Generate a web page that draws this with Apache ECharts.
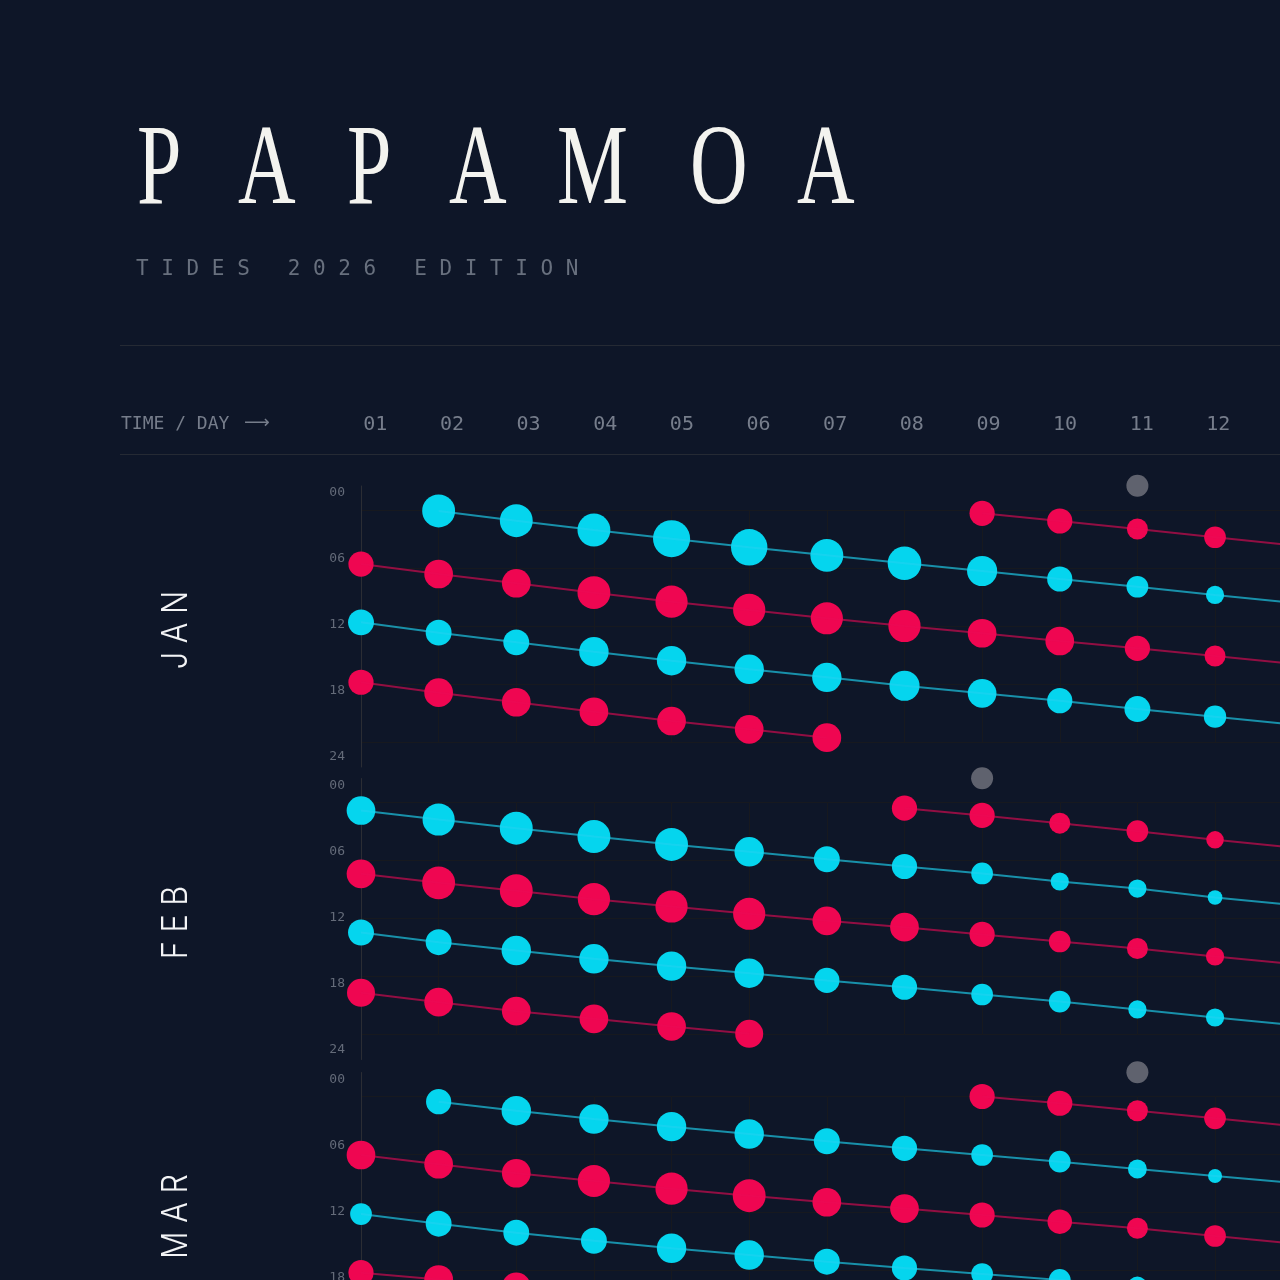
<!DOCTYPE html>
<html>
<head>
<meta charset="utf-8">
<title>Papamoa Tides 2026</title>
<script src="https://cdn.jsdelivr.net/npm/echarts@6/dist/echarts.min.js"></script>
<style>
    html, body { margin: 0; padding: 0; background: #0e1628; }
    #main { width: 1280px; height: 1280px; }
</style>
</head>
<body>
<div id="main"></div>
<script type="text/javascript">
// columns (day of month) and header labels
var days = [1, 2, 3, 4, 5, 6, 7, 8, 9, 10, 11, 12, 13];
var dayLabels = ['01', '02', '03', '04', '05', '06', '07', '08', '09', '10', '11', '12'];
var hourTicks = [0, 6, 12, 18, 24];
var months = ['JAN', 'FEB', 'MAR'];
// moon marker day per month
var moonDays = [11, 9, 11];
var MOON_ROW = -2.5;

// tide times (hour of day) and tidal range (m) per day, null = no tide in that chain
// JAN
var janHighA      = [null, 0.10, 1.11, 2.07, 2.97, 3.86, 4.69, 5.51, 6.31, 7.14, 7.94, 8.79, 9.60];
var janHighARange = [null, 2.35, 2.35, 2.35, 2.65, 2.60, 2.35, 2.40, 2.15, 1.80, 1.55, 1.30, 1.10];
var janLowB       = [5.59, 6.62, 7.58, 8.55, 9.48, 10.34, 11.20, 12.00, 12.75, 13.55, 14.31, 15.10, 15.90];
var janLowBRange  = [1.80, 2.05, 2.05, 2.35, 2.30, 2.30, 2.30, 2.30, 2.05, 2.05, 1.80, 1.50, 1.30];
var janHighC      = [11.62, 12.69, 13.69, 14.66, 15.59, 16.48, 17.31, 18.18, 18.96, 19.73, 20.59, 21.38, 22.20];
var janHighCRange = [1.85, 1.85, 1.85, 2.10, 2.10, 2.10, 2.10, 2.15, 2.05, 1.80, 1.85, 1.60, 1.40];
var janLowD       = [17.82, 18.90, 19.89, 20.87, 21.83, 22.69, 23.55, null, 0.34, 1.14, 1.97, 2.82, 3.65];
var janLowDRange  = [1.80, 2.05, 2.05, 2.05, 2.05, 2.05, 2.05, null, 1.80, 1.80, 1.50, 1.55, 1.30];
// FEB
var febHighA      = [0.83, 1.76, 2.66, 3.52, 4.34, 5.10, 5.87, 6.62, 7.34, 8.17, 8.90, 9.83, 10.60];
var febHighARange = [2.05, 2.30, 2.35, 2.35, 2.35, 2.10, 1.85, 1.80, 1.55, 1.30, 1.30, 1.05, 1.00];
var febLowB       = [7.38, 8.31, 9.13, 10.00, 10.76, 11.51, 12.24, 12.90, 13.65, 14.38, 15.10, 15.93, 16.70];
var febLowBRange  = [2.05, 2.35, 2.35, 2.30, 2.30, 2.30, 2.05, 2.05, 1.80, 1.55, 1.50, 1.30, 1.20];
var febHighC      = [13.45, 14.45, 15.31, 16.17, 16.93, 17.66, 18.41, 19.11, 19.86, 20.59, 21.41, 22.24, 23.00];
var febHighCRange = [1.85, 1.85, 2.10, 2.10, 2.10, 2.10, 1.80, 1.80, 1.55, 1.55, 1.30, 1.30, 1.20];
var febLowD       = [19.69, 20.66, 21.59, 22.38, 23.17, 23.93, null, 0.59, 1.34, 2.14, 2.97, 3.86, 4.65];
var febLowDRange  = [2.00, 2.05, 2.05, 2.05, 2.05, 2.00, null, 1.80, 1.80, 1.50, 1.55, 1.25, 1.20];
// MAR
var marHighA      = [null, 0.54, 1.47, 2.33, 3.12, 3.88, 4.63, 5.36, 6.05, 6.74, 7.50, 8.22, 8.95];
var marHighARange = [null, 1.80, 2.10, 2.10, 2.10, 2.10, 1.85, 1.80, 1.55, 1.55, 1.35, 1.00, 1.00];
var marLowB       = [6.05, 7.01, 7.94, 8.74, 9.54, 10.26, 10.94, 11.59, 12.26, 12.95, 13.63, 14.43, 15.20];
var marLowBRange  = [2.05, 2.05, 2.05, 2.30, 2.30, 2.35, 2.05, 2.05, 1.80, 1.75, 1.50, 1.55, 1.40];
var marHighC      = [12.16, 13.16, 14.09, 14.92, 15.70, 16.40, 17.09, 17.74, 18.36, 18.98, 19.60, 20.30, 21.00];
var marHighCRange = [1.55, 1.85, 1.85, 1.85, 2.10, 2.10, 1.85, 1.80, 1.55, 1.55, 1.35, 1.30, 1.20];
var marLowD       = [18.23, 18.93, 19.70, null, null, null, null, null, 0.00, 0.70, 1.47, 2.26, 3.05];
var marLowDRange  = [1.80, 2.05, 2.05, null, null, null, null, null, 1.80, 1.80, 1.50, 1.55, 1.40];

var BG = '#0e1628';
var CYAN = '#05d5ee';
var PINK = '#ef0651';
var CYAN_LINE = 'rgba(30,210,240,0.65)';
var PINK_LINE = 'rgba(235,10,85,0.6)';
var GRID_LINE = '#17191f';
var AXIS_LINE = '#2b2d34';
var MUTED = '#767d8b';
var MONO = "'DejaVu Sans Mono', monospace";

var COL = 77.64;             // px per day
var panelTops = [510, 802.5, 1096.5];

var chains = [
    {m: 0, hi: true,  t: janHighA, r: janHighARange},
    {m: 0, hi: false, t: janLowB,  r: janLowBRange},
    {m: 0, hi: true,  t: janHighC, r: janHighCRange},
    {m: 0, hi: false, t: janLowD,  r: janLowDRange},
    {m: 1, hi: true,  t: febHighA, r: febHighARange},
    {m: 1, hi: false, t: febLowB,  r: febLowBRange},
    {m: 1, hi: true,  t: febHighC, r: febHighCRange},
    {m: 1, hi: false, t: febLowD,  r: febLowDRange},
    {m: 2, hi: true,  t: marHighA, r: marHighARange},
    {m: 2, hi: false, t: marLowB,  r: marLowBRange},
    {m: 2, hi: true,  t: marHighC, r: marHighCRange},
    {m: 2, hi: false, t: marLowD,  r: marLowDRange}
];

var grids = [], xAxes = [], yAxes = [], series = [];

// tide panels (grid 0..2)
panelTops.forEach(function (top, m) {
    grids.push({left: 361, top: top, width: 12 * COL, height: 232, containLabel: false, outerBoundsMode: 'none'});
    xAxes.push({
        type: 'value', gridIndex: m, min: 1, max: 13, interval: 1,
        axisLine: {show: false}, axisTick: {show: false}, axisLabel: {show: false},
        splitLine: {show: true, lineStyle: {color: GRID_LINE, width: 1}}
    });
    yAxes.push({
        type: 'value', gridIndex: m, inverse: true, min: 0, max: 24, interval: 6,
        axisLine: {show: false}, axisTick: {show: false}, axisLabel: {show: false},
        splitLine: {show: true, lineStyle: {color: GRID_LINE, width: 1}}
    });
});

// hour label axes (grid 3..5)
panelTops.forEach(function (top, m) {
    grids.push({left: 361, top: top - 24, width: 10, height: 281, containLabel: false, outerBoundsMode: 'none'});
    xAxes.push({type: 'value', gridIndex: 3 + m, show: false});
    yAxes.push({
        type: 'value', gridIndex: 3 + m, inverse: true, min: -7 / 11, max: 24 + 10 / 11,
        axisLine: {show: true, lineStyle: {color: AXIS_LINE, width: 1}},
        axisTick: {show: false},
        splitLine: {show: false},
        axisLabel: {
            customValues: hourTicks,
            formatter: function (v) { return (v < 10 ? '0' : '') + v; },
            color: '#646b79', fontSize: 13, fontFamily: MONO, margin: 16
        }
    });
});

// header day labels (grid 6)
grids.push({left: 337, top: 400, width: 12 * 76.64, height: 10, containLabel: false, outerBoundsMode: 'none'});
xAxes.push({
    type: 'category', gridIndex: 6, data: dayLabels,
    axisLine: {show: false}, axisTick: {show: false}, splitLine: {show: false},
    axisLabel: {color: MUTED, fontSize: 20, fontFamily: MONO, margin: 15, verticalAlign: 'middle'}
});
yAxes.push({type: 'value', gridIndex: 6, show: false});

chains.forEach(function (c) {
    var lineData = [], dotData = [];
    for (var i = 0; i < days.length; i++) {
        if (c.t[i] == null) {
            lineData.push([days[i], '-']);
        } else {
            lineData.push([days[i], c.t[i], c.r[i]]);
            dotData.push([days[i], c.t[i], c.r[i]]);
        }
    }
    series.push({
        type: 'scatter', xAxisIndex: c.m, yAxisIndex: c.m, z: 2,
        data: dotData,
        symbolSize: function (v) { return v[2] * 14; },
        itemStyle: {color: c.hi ? CYAN : PINK, opacity: 1}
    });
    series.push({
        type: 'line', xAxisIndex: c.m, yAxisIndex: c.m, z: 3,
        data: lineData, showSymbol: false, symbol: 'none', connectNulls: false,
        lineStyle: {color: c.hi ? CYAN_LINE : PINK_LINE, width: 2}
    });
});

// moon markers
moonDays.forEach(function (d, m) {
    series.push({
        type: 'scatter', xAxisIndex: m, yAxisIndex: m, z: 2, clip: false,
        data: [[d, MOON_ROW]], symbolSize: 22,
        itemStyle: {color: '#74767f'}
    });
});

// title, subtitle, header, month names
var titleLetterX = [137, 238, 347, 449, 557, 690, 797];
var graphics = [];
'PAPAMOA'.split('').forEach(function (ch, i) {
    graphics.push({
        type: 'text', x: titleLetterX[i], y: 173, scaleX: 0.7,
        style: {text: ch, fill: '#f3f3ef', font: "114px 'Liberation Serif', serif", textAlign: 'left', textVerticalAlign: 'middle'}
    });
});
graphics.push({
    type: 'text', x: 136, y: 270,
    style: {text: 'TIDES 2026 EDITION'.split('').join(' '), fill: '#68707e', font: "21px " + MONO, textAlign: 'left', textVerticalAlign: 'middle'}
});
graphics.push({type: 'line', shape: {x1: 120, y1: 345.5, x2: 1280, y2: 345.5}, style: {stroke: '#252a34', lineWidth: 1}});
graphics.push({type: 'line', shape: {x1: 120, y1: 454.5, x2: 1280, y2: 454.5}, style: {stroke: '#252a34', lineWidth: 1}});
graphics.push({
    type: 'text', x: 121, y: 424,
    style: {text: 'TIME / DAY', fill: MUTED, font: "18px " + MONO, textAlign: 'left', textVerticalAlign: 'middle'}
});
graphics.push({
    type: 'text', x: 244, y: 423,
    style: {text: '\u27f6', fill: MUTED, font: "18px 'DejaVu Sans', sans-serif", textAlign: 'left', textVerticalAlign: 'middle'}
});
months.forEach(function (name, m) {
    graphics.push({
        type: 'text', x: 176, y: panelTops[m] + 120, rotation: Math.PI / 2, scaleX: 0.85,
        style: {text: name.split('').join(' '), fill: '#f3f4f6', font: "300 36px Inter, sans-serif", textAlign: 'center', textVerticalAlign: 'middle'}
    });
});

var chart = echarts.init(document.getElementById('main'));
chart.setOption({
    backgroundColor: BG,
    animation: false,
    grid: grids,
    xAxis: xAxes,
    yAxis: yAxes,
    series: series,
    graphic: graphics
});
</script>
</body>
</html>
